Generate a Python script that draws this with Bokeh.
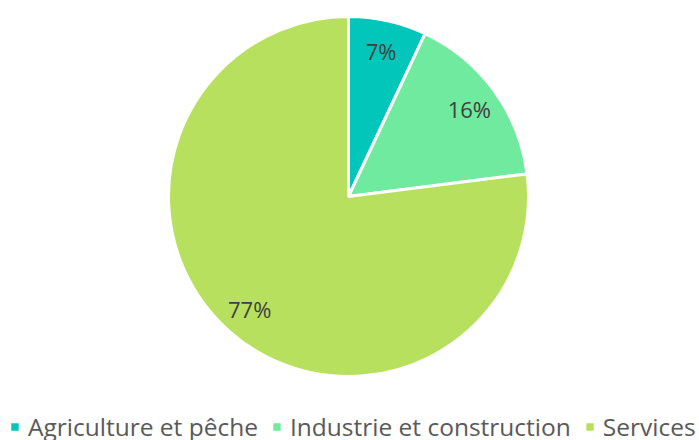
import math
from bokeh.plotting import figure
from bokeh.models import ColumnDataSource, Legend, LegendItem
from bokeh.core.properties import value
from bokeh.embed import file_html
from bokeh.resources import INLINE

categories = ["Agriculture et pêche", "Industrie et construction", "Services"]
shares = [7, 16, 77]
labels = ["7%", "16%", "77%"]
colors = ["#02C6B9", "#70EA9E", "#B8E05F"]

W, H = 699, 440
cx, cy, R = 348, 244, 180
FONT = "Open Sans"

total = sum(shares)
starts, ends, lx, ly = [], [], [], []
acc = 0.0
for s in shares:
    a0 = math.pi / 2 - 2 * math.pi * acc / total
    a1 = math.pi / 2 - 2 * math.pi * (acc + s) / total
    starts.append(a0)
    ends.append(a1)
    mid = (a0 + a1) / 2
    lx.append(cx + 0.83 * R * math.cos(mid))
    ly.append(cy + 0.83 * R * math.sin(mid))
    acc += s

src = ColumnDataSource(dict(cat=categories, start=starts, end=ends, color=colors,
                            lx=lx, ly=ly, label=labels))

p = figure(width=W, height=H, x_range=(0, W), y_range=(0, H),
           output_backend="svg", toolbar_location=None, min_border=0,
           outline_line_color=None)
p.axis.visible = False
p.grid.visible = False
p.background_fill_color = "white"

wr = p.wedge(x=cx, y=cy, radius=R, start_angle="start", end_angle="end",
             direction="clock", fill_color="color", line_color="white",
             line_width=3, source=src)

p.text(x="lx", y="ly", text="label", source=src, text_align="center",
       text_baseline="middle", text_font=value(FONT), text_font_size="22px",
       text_color="#404040")

items = [LegendItem(label=c, renderers=[wr], index=i)
         for i, c in enumerate(categories)]

legend = Legend(items=items, orientation="horizontal", location=(8, -3),
                glyph_width=13, glyph_height=13, label_standoff=7,
                spacing=12, padding=0, margin=0,
                label_text_font=FONT, label_text_font_size="24.5px",
                label_text_color="#595959", border_line_alpha=0,
                background_fill_alpha=0, label_height=30)
p.add_layout(legend, "center")

open("out.html", "w").write(file_html(p, INLINE))
